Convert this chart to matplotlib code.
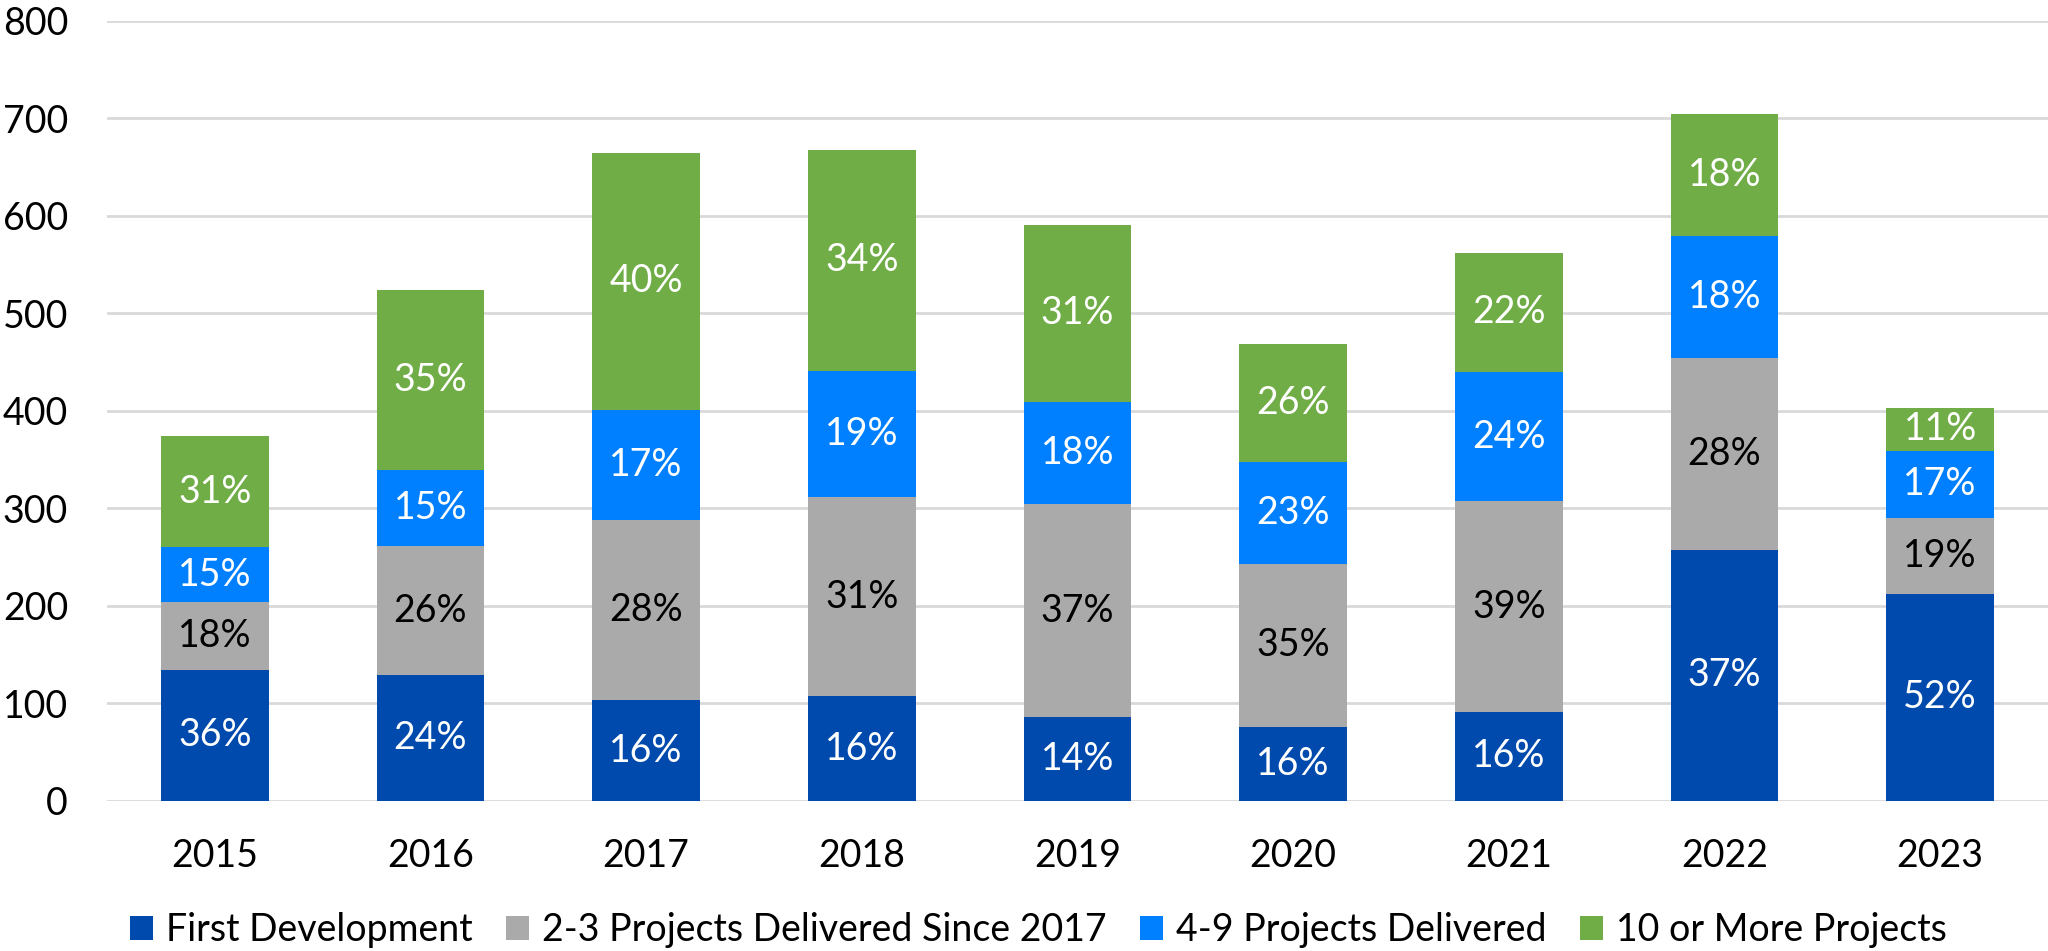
import matplotlib
matplotlib.use('Agg')
import matplotlib.pyplot as plt
import numpy as np

plt.rcParams['font.family'] = ['Lato', 'DejaVu Sans']

years = ['2015', '2016', '2017', '2018', '2019', '2020', '2021', '2022', '2023']

# segment sizes
first_dev = [134, 129, 103, 107, 86, 76, 91, 257, 212]
two_three = [70, 132, 185, 205, 218, 167, 216, 197, 78]
four_nine = [56, 78, 113, 129, 105, 104, 133, 125, 69]
ten_plus = [114, 185, 264, 227, 182, 122, 122, 126, 44]

# percentage labels as printed on the chart
first_pct = ['36%', '24%', '16%', '16%', '14%', '16%', '16%', '37%', '52%']
two_three_pct = ['18%', '26%', '28%', '31%', '37%', '35%', '39%', '28%', '19%']
four_nine_pct = ['15%', '15%', '17%', '19%', '18%', '23%', '24%', '18%', '17%']
ten_plus_pct = ['31%', '35%', '40%', '34%', '31%', '26%', '22%', '18%', '11%']

series = [
    ('First Development', first_dev, first_pct, '#004AAD', 'white'),
    ('2-3 Projects Delivered Since 2017', two_three, two_three_pct, '#AAAAAA', 'black'),
    ('4-9 Projects Delivered', four_nine, four_nine_pct, '#0080FF', 'white'),
    ('10 or More Projects', ten_plus, ten_plus_pct, '#70AD47', 'white'),
]

fig = plt.figure(figsize=(20.48, 9.51), dpi=100)
ax = fig.add_axes([0.0522, 0.158, 0.9478, 0.820])

x = np.arange(len(years))
bottom = np.zeros(len(years))
for name, vals, pcts, color, tcolor in series:
    bars = ax.bar(x, vals, width=0.5, bottom=bottom, color=color, label=name, zorder=3)
    ax.bar_label(bars, labels=pcts, label_type='center', color=tcolor, fontsize=27)
    bottom += np.array(vals)

ax.set_xlim(-0.5, 8.5)
ax.set_ylim(0, 800)
ax.set_yticks(np.arange(0, 801, 100))
ax.set_xticks(x)
ax.set_xticklabels(years)
ax.tick_params(axis='y', length=0, pad=28, labelsize=27)
ax.tick_params(axis='x', length=0, pad=27, labelsize=27)
ax.grid(axis='y', color='#D9D9D9', linewidth=2, zorder=0)
for s in ax.spines.values():
    s.set_visible(False)

fig.legend(loc='center', bbox_to_anchor=(0.507, 0.022), ncol=4, frameon=False,
           fontsize=27, handlelength=0.6, handleheight=0.6, handletextpad=0.35,
           columnspacing=0.9, borderaxespad=0)

fig.savefig('out.png', dpi=100)
